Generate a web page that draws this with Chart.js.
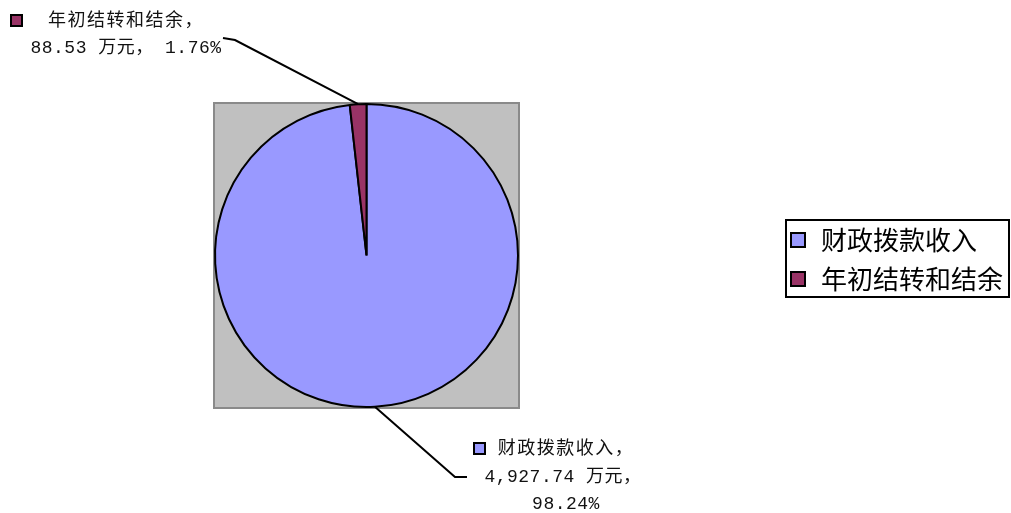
<!DOCTYPE html>
<html>
<head>
<meta charset="utf-8">
<script src="https://cdn.jsdelivr.net/npm/chart.js@4.4.0/dist/chart.umd.min.js"></script>
<style>
  html, body { margin: 0; padding: 0; background: #fff; }
  #wrap { width: 1011px; height: 513px; position: relative; }
</style>
</head>
<body>
<div id="wrap"><canvas id="chart" width="1011" height="513"></canvas></div>
<script>
// data
const categories = ['财政拨款收入', '年初结转和结余'];
const amounts = [4927.74, 88.53];           // 万元
const amountText = ['4,927.74', '88.53'];
const percents = ['98.24%', '1.76%'];
const colors = ['#9999FF', '#993366'];

const FONT = '"Liberation Mono", "Noto Sans CJK SC", monospace';
const CJK = '"Noto Sans CJK SC", sans-serif';

// grey plot square behind the pie
const plotBg = {
    id: 'plotBg',
    beforeDraw(chart) {
        const ctx = chart.ctx;
        const a = chart.chartArea;
        ctx.save();
        ctx.fillStyle = '#C0C0C0';
        ctx.fillRect(a.left, a.top, a.right - a.left, a.bottom - a.top);
        ctx.strokeStyle = '#8a8a8a';
        ctx.lineWidth = 2;
        ctx.strokeRect(a.left, a.top, a.right - a.left, a.bottom - a.top);
        ctx.restore();
    }
};

function marker(ctx, x, y, size, color) {
    ctx.fillStyle = color;
    ctx.fillRect(x, y, size, size);
    ctx.strokeStyle = '#000';
    ctx.lineWidth = 2;
    ctx.strokeRect(x, y, size, size);
}

// leader lines + data labels
const labelPlugin = {
    id: 'labels',
    afterDraw(chart) {
        const ctx = chart.ctx;
        const arcs = chart.getDatasetMeta(0).data;
        const edge = (arc) => {
            const p = arc.getProps(['x', 'y', 'startAngle', 'endAngle', 'outerRadius']);
            const mid = (p.startAngle + p.endAngle) / 2;
            return [p.x + Math.cos(mid) * p.outerRadius, p.y + Math.sin(mid) * p.outerRadius];
        };
        ctx.save();
        ctx.strokeStyle = '#000';
        ctx.lineWidth = 2;

        // small slice, top left label
        let e = edge(arcs[1]);
        ctx.beginPath();
        ctx.moveTo(e[0], e[1]);
        ctx.lineTo(235, 40);
        ctx.lineTo(223, 38);
        ctx.stroke();

        // big slice, bottom label
        e = edge(arcs[0]);
        ctx.beginPath();
        ctx.moveTo(e[0], e[1]);
        ctx.lineTo(455, 477);
        ctx.lineTo(467, 477);
        ctx.stroke();

        ctx.fillStyle = '#111';
        ctx.textBaseline = 'middle';
        ctx.textAlign = 'center';
        ctx.font = '18px ' + FONT;

        // top left label
        ctx.letterSpacing = '1.5px';
        ctx.fillText(categories[1] + '，', 126, 21);
        marker(ctx, 11, 15, 11, colors[1]);
        ctx.fillStyle = '#111';
        ctx.letterSpacing = '0.5px';
        ctx.fillText(amountText[1] + ' 万元， ' + percents[1], 126, 48);

        // bottom label
        ctx.letterSpacing = '1.5px';
        ctx.fillText(categories[0] + '，', 566, 449);
        marker(ctx, 474, 443, 11, colors[0]);
        ctx.fillStyle = '#111';
        ctx.letterSpacing = '0.5px';
        ctx.fillText(amountText[0] + ' 万元，', 563, 477);
        ctx.fillText(percents[0], 566, 504);

        // legend box
        ctx.letterSpacing = '0px';
        ctx.strokeStyle = '#000';
        ctx.lineWidth = 2;
        ctx.strokeRect(786, 220, 223, 77);
        ctx.textAlign = 'left';
        ctx.font = '26px ' + CJK;
        categories.forEach((c, i) => {
            const y = 240 + i * 39;
            marker(ctx, 791, y - 7, 14, colors[i]);
            ctx.fillStyle = '#000';
            ctx.fillText(c, 821, y);
        });
        ctx.restore();
    }
};

new Chart(document.getElementById('chart'), {
    type: 'pie',
    data: {
        labels: categories,
        datasets: [{
            data: amounts,
            backgroundColor: colors,
            borderColor: '#000',
            borderWidth: 2
        }]
    },
    options: {
        responsive: false,
        animation: false,
        layout: { padding: { left: 214, right: 492, top: 103, bottom: 105 } },
        plugins: {
            legend: { display: false },
            tooltip: { enabled: false }
        }
    },
    plugins: [plotBg, labelPlugin]
});
</script>
</body>
</html>
